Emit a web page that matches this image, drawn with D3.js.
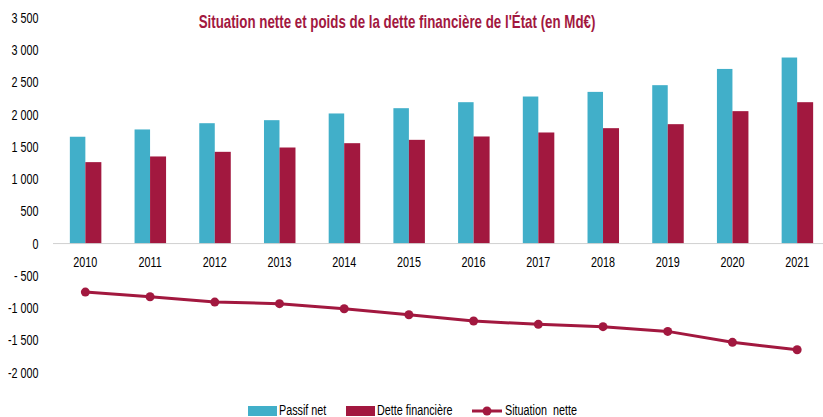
<!DOCTYPE html>
<html><head><meta charset="utf-8">
<script src="https://cdn.jsdelivr.net/npm/d3@7"></script>
<style>
body{margin:0;background:#fff;}
svg{display:block;}
text{font-family:"Liberation Sans",Arial,sans-serif;}
</style></head>
<body><svg id="c" width="823" height="417"></svg>
<script>
const years = ["2010","2011","2012","2013","2014","2015","2016","2017","2018","2019","2020","2021"];
const passifNet = [1650,1763,1860,1907,2011,2093,2186,2274,2346,2450,2702,2879];
const detteFinanciere = [1256,1344,1416,1483,1550,1602,1654,1716,1783,1845,2047,2186];
const situationNette = [-760,-832,-915,-940,-1018,-1111,-1209,-1261,-1297,-1370,-1540,-1654];
const yTicks = [3500,3000,2500,2000,1500,1000,500,0,-500,-1000,-1500,-2000];
const title = "Situation nette et poids de la dette financière de l'État (en Md€)";
const legendLabels = ["Passif net","Dette financière","Situation  nette"];

const blue = "#41AFC9", red = "#A2183F";
const SX = 0.72;
const svg = d3.select("#c");
const x = d3.scaleBand().domain(years).range([53,829.5]);
const y = d3.scaleLinear().domain([-2000,3500]).range([372,17.5]);

const fmt = v => {
  const a = Math.abs(v);
  let s = a >= 1000 ? Math.floor(a/1000) + " " + String(a%1000).padStart(3,"0") : String(a);
  if (v < 0) s = a < 1000 ? "- " + s : "-" + s;
  return s;
};
const tr = (px,py,s) => `translate(${px},${py}) scale(${s},1)`;

// y labels
svg.append("g").selectAll("text").data(yTicks).join("text")
  .attr("transform",d=>tr(38.5,y(d)+5.5,SX))
  .attr("text-anchor","end").attr("font-size",15).attr("fill","#000")
  .style("white-space","pre")
  .text(fmt);

// zero axis line
svg.append("line").attr("x1",53).attr("x2",823).attr("y1",y(0)+0.5).attr("y2",y(0)+0.5)
  .attr("stroke","#d0d0d0").attr("stroke-width",1);

const bw = 15.5;
const g = svg.append("g");
g.selectAll("rect.p").data(years).join("rect").attr("class","p")
  .attr("x",(d)=>x(d)+x.bandwidth()/2-bw).attr("width",bw)
  .attr("y",(d,i)=>y(passifNet[i])).attr("height",(d,i)=>y(0)-y(passifNet[i]))
  .attr("fill",blue);
g.selectAll("rect.d").data(years).join("rect").attr("class","d")
  .attr("x",(d)=>x(d)+x.bandwidth()/2).attr("width",bw+0.5)
  .attr("y",(d,i)=>y(detteFinanciere[i])).attr("height",(d,i)=>y(0)-y(detteFinanciere[i]))
  .attr("fill",red);

// x labels
svg.append("g").selectAll("text").data(years).join("text")
  .attr("transform",d=>tr(x(d)+x.bandwidth()/2,267,SX))
  .attr("text-anchor","middle").attr("font-size",15).attr("fill","#000").text(d=>d);

// line
const line = d3.line().x((d,i)=>x(years[i])+x.bandwidth()/2).y(d=>y(d));
svg.append("path").datum(situationNette).attr("d",line)
  .attr("fill","none").attr("stroke",red).attr("stroke-width",3);
svg.append("g").selectAll("circle").data(situationNette).join("circle")
  .attr("cx",(d,i)=>x(years[i])+x.bandwidth()/2).attr("cy",d=>y(d)).attr("r",4.5).attr("fill",red);

// title
svg.append("text").attr("transform",tr(397,28,0.74)).attr("text-anchor","middle")
  .attr("font-size",18).attr("font-weight","bold").attr("fill",red).text(title);

// legend
const ly = 411;
svg.append("rect").attr("x",248).attr("y",ly-5).attr("width",29).attr("height",10).attr("fill",blue);
svg.append("text").attr("transform",tr(279,ly+4,SX)).attr("font-size",15).text(legendLabels[0]);
svg.append("rect").attr("x",346).attr("y",ly-5).attr("width",29).attr("height",10).attr("fill",red);
svg.append("text").attr("transform",tr(377,ly+4,SX)).attr("font-size",15).text(legendLabels[1]);
svg.append("line").attr("x1",472).attr("x2",502).attr("y1",ly).attr("y2",ly).attr("stroke",red).attr("stroke-width",3);
svg.append("circle").attr("cx",487).attr("cy",ly).attr("r",4.5).attr("fill",red);
svg.append("text").attr("transform",tr(505,ly+4,SX)).attr("font-size",15).style("white-space","pre").text(legendLabels[2]);
</script></body></html>
